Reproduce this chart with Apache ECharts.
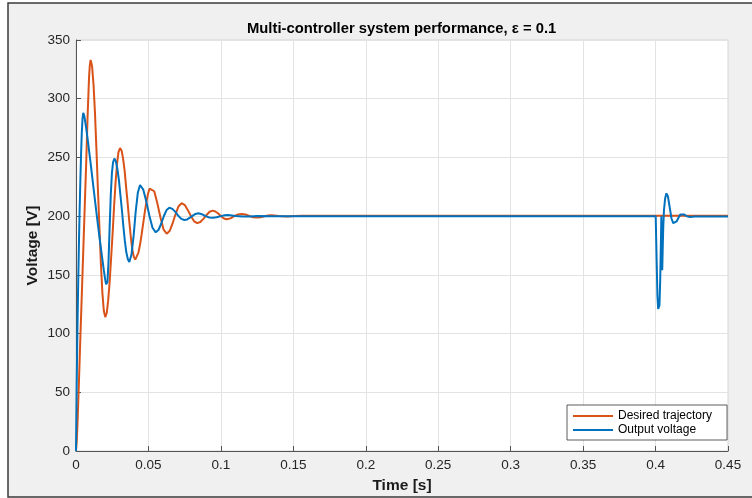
<!DOCTYPE html>
<html>
<head>
<meta charset="utf-8">
<script src="https://cdn.jsdelivr.net/npm/echarts@6/dist/echarts.min.js"></script>
<style>
  html, body { margin: 0; padding: 0; background: #fff; }
  #chart { width: 752px; height: 498px; }
</style>
</head>
<body>
<div id="chart"></div>
<script>
// Desired trajectory (orange)
const desiredT = [0, 0.0005, 0.001, 0.002, 0.003, 0.004, 0.005, 0.006, 0.007, 0.008, 0.009, 0.0095, 0.0101,
  0.0111, 0.0121, 0.0131, 0.0141, 0.0151, 0.0162, 0.0172, 0.0182, 0.0192, 0.0202,
  0.0212, 0.0222, 0.0232, 0.0242, 0.0253, 0.0263, 0.0273, 0.0283, 0.0293, 0.0304,
  0.0315, 0.0325, 0.0336, 0.0346, 0.0357, 0.0367, 0.0378, 0.0388, 0.0399, 0.0409,
  0.0420, 0.0431, 0.0442, 0.0453, 0.0464, 0.0475, 0.0486, 0.0497, 0.0508, 0.0518,
  0.0540, 0.0561, 0.0583, 0.0604, 0.0626,
  0.0647, 0.0667, 0.0688, 0.0708, 0.0729,
  0.0751, 0.0772, 0.0794, 0.0815, 0.0837,
  0.0858, 0.0879, 0.0901, 0.0922, 0.0943,
  0.0962, 0.0982, 0.1001, 0.1021, 0.1040,
  0.1066, 0.1092, 0.1118, 0.1144,
  0.1170, 0.1196, 0.1222, 0.1248,
  0.1274, 0.1300, 0.1325, 0.1350,
  0.1400, 0.1455, 0.1510, 0.1560, 0.1700, 0.4500];
const desiredV = [0, 8, 22, 58, 96, 133, 170, 207, 244, 285, 318, 328, 333,
  327.6, 312, 287.9, 257.3, 223.5, 189.7, 159.1, 134.9, 119.4, 114,
  117.5, 128, 143.5, 163.7, 186, 208.6, 228.5, 244, 254.5, 258,
  255.7, 249, 238.4, 224.5, 210.5, 196.5, 182.6, 172, 165.3, 163,
  164.5, 169, 175.8, 184.4, 194, 203.6, 212.2, 219, 223.5, 225,
  221.2, 211.2, 198.8, 188.8, 185,
  187.5, 194, 202, 208.5, 211,
  209.4, 205.1, 199.9, 195.6, 194,
  195, 197.7, 201, 203.7, 204.7,
  204, 202.2, 199.9, 198, 197.3,
  198.1, 200, 201.4, 201.9,
  201.4, 200.2, 199.1, 198.8,
  199.1, 199.9, 200.6, 200.8,
  200.1, 199.6, 200.1, 200.4, 200.4, 200.4];

// Output voltage (blue)
const outputT = [0, 0.0005, 0.001, 0.0015, 0.002, 0.0025, 0.003, 0.0035, 0.004, 0.0045, 0.005,
  0.0058, 0.0068, 0.008, 0.010, 0.012, 0.014, 0.016, 0.018, 0.0192, 0.0202, 0.0208, 0.0212,
  0.0217, 0.0224, 0.0232, 0.0240, 0.0248, 0.0256, 0.0265,
  0.0275, 0.0285, 0.0296, 0.0306, 0.0317, 0.0327, 0.0337, 0.0347, 0.0358, 0.0368,
  0.0383, 0.0398, 0.0412, 0.0427, 0.0442,
  0.0464, 0.0485, 0.0507, 0.0528, 0.0550,
  0.0569, 0.0588, 0.0606, 0.0625, 0.0644,
  0.0665, 0.0686, 0.0706, 0.0727, 0.0748,
  0.0767, 0.0786, 0.0806, 0.0825, 0.0844,
  0.0870, 0.0895, 0.0920, 0.0945,
  0.0970, 0.1000, 0.1025, 0.1050,
  0.1100, 0.1150, 0.1200, 0.1250, 0.1350, 0.4001,
  0.4007, 0.4013, 0.4018, 0.4022, 0.4027, 0.4032, 0.4037, 0.4040,
  0.4043, 0.4046, 0.4049, 0.4053, 0.4058, 0.4066, 0.4075, 0.4085,
  0.4097, 0.4110, 0.4122, 0.4132, 0.4145, 0.4160, 0.4172, 0.4183,
  0.4198, 0.4215, 0.4238, 0.4270, 0.4500];
const outputV = [0, 58, 105, 142, 175, 205, 230, 253, 271, 283, 288,
  285, 277, 266, 246, 225, 204, 184, 165, 154, 145.5, 142, 141,
  144, 160, 190, 218, 237, 246, 249,
  246.8, 240.6, 230.9, 218.6, 205, 191.4, 179.1, 169.4, 163.2, 161,
  167.3, 183.6, 203.9, 220.2, 226.5,
  222.6, 212.6, 200.1, 190.1, 186.2,
  188.2, 193.5, 199.9, 205.2, 207.2,
  206.2, 203.6, 200.3, 197.7, 196.7,
  197.2, 198.7, 200.4, 201.9, 202.4,
  201.6, 200, 198.9, 198.7,
  199.1, 200, 200.8, 201,
  200.2, 199.6, 199.8, 200.2, 200, 200,
  165, 132, 121, 119.5, 124, 145, 178, 200,
  178, 154, 170, 190, 205, 215, 219.4, 217,
  208, 198, 194, 193.9, 195.5, 199, 201.5, 202.3,
  201.4, 199.9, 199.3, 199.6, 199.6];

const seriesNames = ['Desired trajectory', 'Output voltage'];
const xTickStep = 0.05;
const yTickStep = 50;

const font = 'Liberation Sans, Arial, Helvetica, sans-serif';
const zip = (ts, vs) => ts.map((t, i) => [t, vs[i]]);

const chart = echarts.init(document.getElementById('chart'));
chart.setOption({
  animation: false,
  backgroundColor: '#fff',
  graphic: [{
    type: 'rect',
    z: -10,
    silent: true,
    shape: { x: 8, y: 3, width: 760, height: 494 },
    style: { fill: '#f0f0f0', stroke: '#3a3a3a', lineWidth: 1.5 }
  }],
  title: {
    text: 'Multi-controller system performance, \u03b5 = 0.1',
    left: 247,
    top: 21,
    padding: 0,
    textStyle: { fontFamily: font, fontSize: 14.8, fontWeight: 'bold', color: '#000' }
  },
  grid: {
    left: 76, top: 40, right: 24, bottom: 47,
    outerBoundsMode: 'none',
    show: true, backgroundColor: '#fff', borderColor: '#d4d4d4', borderWidth: 1
  },
  legend: {
    data: seriesNames,
    orient: 'vertical',
    left: 567,
    top: 405,
    icon: 'rect',
    itemWidth: 40,
    itemHeight: 2,
    itemGap: 2,
    padding: [5, 15, 4, 6],
    backgroundColor: '#fff',
    borderColor: '#333',
    borderWidth: 0.8,
    textStyle: { fontFamily: font, fontSize: 12, color: '#000' }
  },
  xAxis: {
    type: 'value',
    min: 0, max: 0.45, interval: xTickStep,
    name: 'Time [s]',
    nameLocation: 'middle',
    nameGap: 27,
    nameMoveOverlap: false,
    nameTextStyle: { fontFamily: font, fontSize: 15.5, fontWeight: 'bold', color: '#1a1a1a' },
    axisLine: { lineStyle: { color: '#555', width: 1 } },
    axisTick: { inside: true, length: 5, lineStyle: { color: '#555' } },
    axisLabel: { margin: 7, fontFamily: font, fontSize: 13.5, color: '#262626' },
    splitLine: { show: true, lineStyle: { color: '#e3e3e3', width: 1 } }
  },
  yAxis: {
    type: 'value',
    min: 0, max: 350, interval: yTickStep,
    name: 'Voltage [V]',
    nameLocation: 'middle',
    nameGap: 35,
    nameMoveOverlap: false,
    nameTextStyle: { fontFamily: font, fontSize: 15.5, fontWeight: 'bold', color: '#1a1a1a' },
    axisLine: { show: true, lineStyle: { color: '#555', width: 1 } },
    axisTick: { show: true, inside: true, length: 5, lineStyle: { color: '#555' } },
    axisLabel: { margin: 6, fontFamily: font, fontSize: 13.5, color: '#262626' },
    splitLine: { show: true, lineStyle: { color: '#e3e3e3', width: 1 } }
  },
  series: [{
    name: seriesNames[0],
    type: 'line',
    data: zip(desiredT, desiredV),
    showSymbol: false,
    symbol: 'none',
    color: '#D95319',
    lineStyle: { width: 2, color: '#D95319' }
  }, {
    name: seriesNames[1],
    type: 'line',
    data: zip(outputT, outputV),
    showSymbol: false,
    symbol: 'none',
    color: '#0072BD',
    lineStyle: { width: 2, color: '#0072BD' }
  }]
});
</script>
</body>
</html>
